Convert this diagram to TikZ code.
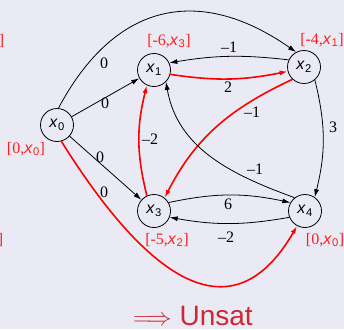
\documentclass[tikz,border=0pt]{standalone}
\usepackage{fontspec}
\setmainfont{Liberation Serif}
\setsansfont{Liberation Sans}
\usetikzlibrary{arrows.meta}
\definecolor{bgc}{RGB}{234,234,245}
\definecolor{unsatred}{RGB}{205,40,50}
\definecolor{lblred}{RGB}{255,30,30}
\newcommand\xv[1]{\textsf{\textit{x}\kern0.3pt\textsubscript{\upshape #1}}}
\begin{document}
\begin{tikzpicture}[x=1pt,y=-1pt,
  vert/.style={circle,draw,line width=0.8pt,minimum size=33pt,inner sep=0pt,font=\fontsize{16}{19}\selectfont},
  lbl/.style={inner sep=0pt,font=\fontsize{16}{19}\selectfont},
  bnd/.style={inner sep=0pt,text=lblred,font=\fontsize{16}{19}\selectfont},
  edge/.style={line width=0.8pt,-{Latex[length=8pt,width=5pt]}},
  redge/.style={line width=1.6pt,red,-{Latex[length=8pt,width=5pt]}}]
\fill[bgc] (0,0) rectangle (344,329);
\useasboundingbox (0,0) rectangle (344,329);
% vertices
\node[vert] (x0) at (57,125) {\xv{0}};
\node[vert] (x1) at (154,70) {\xv{1}};
\node[vert] (x2) at (304,67) {\xv{2}};
\node[vert] (x3) at (154,211) {\xv{3}};
\node[vert] (x4) at (305,211) {\xv{4}};
% edges
\draw[edge] (x0.85) to[out=62,in=145,looseness=1.25] (x2.118);
\draw[edge] (x0) -- (x1);
\draw[edge] (x0) -- (x3);
\draw[redge] (x0.-75) to[out=-58,in=-120,out looseness=1.54,in looseness=1.39] (x4.-118);
\draw[edge] (x2.155) to[bend right=8] (x1.25);
\draw[redge] (x1.-15) to[bend right=10] (x2.195);
\draw[redge] (x2.227) to[out=205,in=63] (x3.51);
\draw[redge] (x3.115) to[bend left=14] (x1.245);
\draw[edge] (x4.128) to[out=160,in=-80] (x1.-45);
\draw[edge] (x2.-50) to[bend left=14] (x4.55);
\draw[edge] (x3.30) to[bend left=12] (x4.150);
\draw[edge] (x4.202) to[bend left=10] (x3.-22);
% edge labels
\node[lbl] (l02) at (104,63) {0};
\node[lbl] (l01) at (105,103) {0};
\node[lbl] (l03) at (100,157) {0};
\node[lbl] (l04) at (104,192) {0};
\node[lbl] (l21) at (229,47) {–1};
\node[lbl] (l12) at (228,87) {2};
\node[lbl] (l23) at (252,112) {–1};
\node[lbl] (l31) at (150,139) {–2};
\node[lbl] (l24) at (333,127) {3};
\node[lbl] (l41) at (255,169) {–1};
\node[lbl] (l34) at (228,204) {6};
\node[lbl] (l43) at (226,237) {–2};
% bounds
\node[bnd] (b1) at (169,41) {[-6,\xv{3}]};
\node[bnd] (b2) at (322,40) {[-4,\xv{1}]};
\node[bnd] (b0) at (26,149) {[0,\xv{0}]};
\node[bnd] (b3) at (167,240) {[-5,\xv{2}]};
\node[bnd] (b4) at (325,240) {[0,\xv{0}]};
\node[bnd,anchor=east] (c1) at (4.5,41) {]};
\node[bnd,anchor=east] (c2) at (3.5,240) {]};
% result
\node[inner sep=0pt,anchor=base west,text=unsatred,font=\fontsize{28}{32}\selectfont\sffamily] (res) at (133,325) {$\Longrightarrow$ Unsat};
\end{tikzpicture}
\end{document}
